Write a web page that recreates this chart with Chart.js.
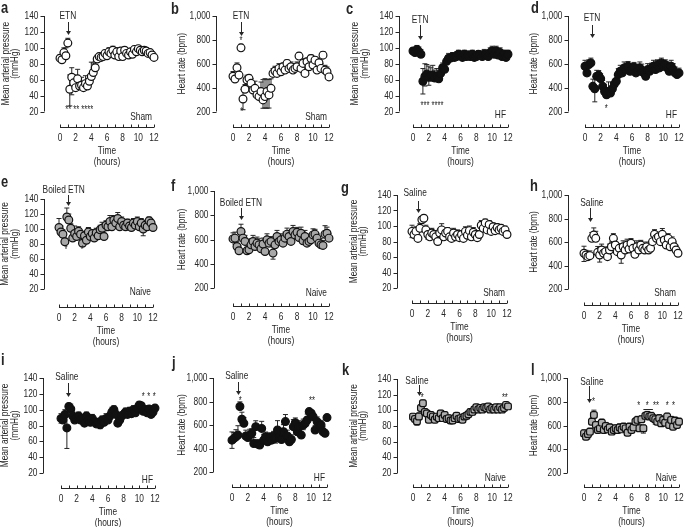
<!DOCTYPE html>
<html>
<head>
<meta charset="utf-8">
<script src="https://cdn.jsdelivr.net/npm/chart.js@4.4.1/dist/chart.umd.min.js"></script>
<style>
  html, body { margin: 0; padding: 0; background: #fff; }
  #fig { position: relative; width: 685px; height: 527px; overflow: hidden; }
  #fig canvas { position: absolute; }
</style>
</head>
<body>
<div id="fig"></div>
<script>
// ========================================
// Data
// ========================================
const hours = [0, 0.25, 0.5, 0.75, 1, 1.25, 1.5, 1.75, 2, 2.25, 2.5, 2.75, 3, 3.25, 3.5, 3.75,
    4, 4.25, 4.5, 4.75, 5, 5.25, 5.5, 5.75, 6, 6.25, 6.5, 6.75, 7, 7.25, 7.5, 7.75,
    8, 8.25, 8.5, 8.75, 9, 9.25, 9.5, 9.75, 10, 10.25, 10.5, 10.75, 11, 11.25, 11.5, 11.75, 12];
const hourTicks = [0, 1, 2, 3, 4, 5, 6, 7, 8, 9, 10, 11, 12];
const mapTicks = [20, 40, 60, 80, 100, 120, 140];
const hrTicks = [200, 400, 600, 800, 1000];

// a - MAP, sham, ETN
const mapShamEtn = [87, 85, 94, 90, 106, 48, 63, 56, 50, 61, 52, 53, 50, 55, 52, 58,
    64, 69, 75, 86, 89, 88, 89, 93, 90, 95, 93, 97, 91, 95, 89, 96,
    89, 97, 93, 91, 95, 92, 98, 95, 99, 97, 95, 97, 96, 93, 94, 91, 88];
const mapShamEtnSem = [4, 4, 6, 10, 6, 18, 12, 10, 14, 12, 8, 10, 8, 10, 6, 8,
    18, 12, 8, 5, 4, 4, 5, 4, 6, 5, 6, 5, 6, 5, 6, 4,
    5, 4, 5, 5, 4, 5, 4, 5, 4, 4, 5, 4, 4, 5, 4, 4, 4];
const mapShamEtnSemLow = [[1.25, 21], [1.5, 22]];

// b - HR, sham, ETN
const hrShamEtn = [495, 472, 567, 505, 733, 305, 386, 464, 478, 436, 380, 394, 339, 325, 367, 297,
    325, 367, 339, 394, 519, 539, 519, 561, 533, 575, 547, 603, 561, 575, 547, 561,
    575, 664, 561, 603, 519, 617, 575, 644, 589, 630, 547, 608, 561, 672, 547, 533, 490];
const hrShamEtnSem = [40, 30, 40, 30, 30, 80, 40, 40, 30, 40, 40, 60, 60, 60, 80, 170,
    150, 100, 130, 80, 40, 40, 50, 40, 40, 30, 40, 30, 40, 40, 50, 40,
    40, 30, 40, 40, 40, 30, 40, 30, 40, 30, 40, 40, 40, 30, 40, 40, 30];
const hrShamEtnSemLow = [[1.25, 90], [3.75, 70], [4, 95], [4.25, 140], [4.5, 110]];

// c - MAP, HF, ETN
const mapHfEtn = [96, 94, 98, 95, 92, 58, 64, 67, 63, 65, 66, 62, 64, 61, 68, 75,
    73, 83, 87, 87, 89, 88, 89, 92, 91, 88, 92, 89, 91, 89, 92, 88,
    89, 92, 91, 89, 92, 92, 89, 94, 96, 92, 96, 91, 94, 89, 92, 88, 92];
const mapHfEtnSem = [4, 3, 5, 6, 6, 16, 16, 12, 14, 10, 12, 10, 10, 8, 6, 6,
    8, 5, 6, 5, 5, 4, 6, 5, 5, 4, 5, 5, 5, 4, 5, 5,
    5, 4, 5, 5, 6, 5, 5, 6, 6, 5, 6, 5, 6, 5, 5, 5, 5];
const mapHfEtnSemLow = [[1.25, 16], [1.5, 12], [2, 10], [2.5, 8]];

// d - HR, HF, ETN
const hrHfEtn = [579, 523, 593, 607, 411, 391, 495, 503, 475, 411, 368, 340, 368, 354, 391, 430,
    453, 509, 537, 523, 565, 551, 579, 537, 551, 571, 523, 537, 565, 537, 523, 495,
    551, 537, 565, 579, 551, 593, 565, 607, 579, 593, 565, 537, 579, 551, 523, 509, 523];
const hrHfEtnSem = [50, 40, 40, 40, 60, 100, 50, 40, 40, 50, 60, 60, 80, 50, 50, 40,
    50, 50, 50, 40, 50, 50, 40, 50, 50, 40, 50, 60, 50, 60, 50, 50,
    50, 50, 40, 50, 50, 40, 50, 40, 40, 40, 50, 50, 50, 50, 50, 40, 40];
const hrHfEtnSemLow = [[1.25, 110]];

// e - MAP, naive, boiled ETN
const mapNaiveBoiled = [102, 96, 93, 83, 116, 112, 101, 88, 94, 90, 97, 93, 81, 91, 85, 96,
    90, 94, 88, 95, 91, 99, 101, 90, 105, 103, 110, 103, 112, 108, 114, 103,
    110, 105, 103, 108, 104, 102, 108, 105, 110, 103, 108, 100, 105, 103, 111, 108, 102];
const mapNaiveBoiledSem = [12, 8, 6, 5, 12, 8, 6, 8, 10, 8, 6, 5, 6, 6, 6, 6,
    6, 5, 6, 6, 6, 6, 8, 6, 6, 6, 8, 6, 6, 6, 8, 6,
    6, 6, 6, 5, 6, 6, 6, 5, 6, 5, 6, 8, 5, 6, 5, 5, 5];
const mapNaiveBoiledSemLow = [[10.75, 9]];

// f - HR, naive, boiled ETN
const hrNaiveBoiled = [605, 611, 542, 507, 666, 611, 584, 507, 515, 556, 584, 542, 570, 556, 523, 562,
    501, 597, 570, 584, 488, 556, 625, 584, 597, 570, 611, 644, 625, 584, 666, 638,
    660, 616, 652, 589, 625, 570, 584, 597, 638, 644, 611, 570, 556, 551, 644, 652, 611];
const hrNaiveBoiledSem = [50, 50, 40, 40, 60, 50, 50, 40, 40, 50, 50, 40, 50, 50, 40, 50,
    40, 50, 50, 40, 50, 40, 50, 40, 50, 40, 50, 50, 50, 40, 50, 50,
    40, 50, 50, 40, 50, 40, 40, 50, 50, 40, 40, 40, 50, 40, 70, 50, 40];
const hrNaiveBoiledSemLow = [[0.25, 50], [5, 50]];

// g - MAP, sham, saline
const mapShamSaline = [93, 89, 93, 84, 97, 108, 110, 95, 89, 86, 91, 89, 86, 80, 91, 95,
    86, 91, 93, 86, 84, 91, 86, 89, 85, 89, 84, 93, 88, 94, 86, 92,
    89, 85, 89, 101, 97, 104, 95, 102, 93, 99, 94, 98, 95, 97, 93, 95, 89];
const mapShamSalineSem = [8, 6, 6, 5, 6, 4, 4, 6, 6, 5, 6, 5, 5, 5, 6, 8,
    5, 6, 5, 6, 5, 6, 5, 6, 5, 5, 5, 6, 6, 6, 5, 6,
    5, 5, 5, 6, 6, 5, 6, 5, 6, 5, 6, 5, 6, 5, 5, 5, 4];
const mapShamSalineSemLow = [[0, 8], [2, 6], [8.25, 4]];

// h - HR, sham, saline
const hrShamSaline = [504, 489, 475, 484, 631, 660, 631, 512, 489, 532, 504, 518, 475, 532, 560, 631,
    574, 518, 546, 489, 560, 532, 574, 540, 589, 546, 495, 560, 532, 574, 546, 532,
    560, 532, 546, 603, 665, 631, 645, 603, 665, 617, 574, 631, 560, 603, 560, 532, 504];
const hrShamSalineSem = [60, 40, 40, 40, 50, 60, 60, 50, 60, 50, 40, 40, 40, 50, 40, 40,
    50, 50, 40, 40, 50, 40, 50, 60, 40, 50, 40, 50, 50, 40, 40, 40,
    40, 50, 40, 50, 40, 40, 40, 40, 50, 50, 50, 40, 50, 40, 40, 40, 30];
const hrShamSalineSemLow = [[0, 70], [2, 60], [4.75, 70]];

// i - MAP, HF, saline
const mapHfSaline = [89, 87, 94, 77, 104, 101, 92, 87, 89, 92, 87, 89, 83, 92, 87, 84,
    89, 85, 82, 84, 81, 87, 84, 89, 87, 92, 97, 100, 94, 83, 87, 92,
    94, 97, 94, 98, 95, 100, 96, 102, 106, 105, 98, 100, 96, 101, 94, 97, 102];
const mapHfSalineSem = [6, 5, 6, 14, 4, 6, 6, 5, 5, 5, 5, 5, 4, 5, 5, 4,
    5, 4, 4, 5, 5, 5, 5, 6, 5, 5, 6, 5, 5, 5, 5, 5,
    5, 5, 5, 5, 5, 5, 5, 5, 4, 4, 5, 5, 5, 4, 5, 4, 4];
const mapHfSalineSemLow = [[0, 6], [0.75, 26], [5, 5]];

// j - HR, HF, saline
const hrHfSaline = [471, 486, 500, 514, 757, 649, 614, 506, 494, 514, 529, 443, 586, 437, 429, 571,
    471, 500, 457, 494, 471, 506, 486, 557, 494, 477, 543, 629, 506, 457, 477, 586,
    620, 543, 586, 514, 600, 614, 643, 714, 700, 671, 557, 629, 591, 600, 543, 529, 663];
const hrHfSalineSem = [70, 50, 60, 80, 40, 60, 50, 50, 40, 50, 40, 50, 50, 40, 40, 60,
    50, 40, 50, 40, 50, 40, 50, 80, 50, 40, 60, 60, 50, 40, 40, 60,
    40, 60, 50, 50, 50, 40, 50, 20, 20, 30, 40, 40, 30, 40, 40, 30, 20];
const hrHfSalineSemLow = [[0, 70], [4.75, 50], [5.5, 40], [9, 40]];

// k - MAP, naive, saline
const mapNaiveSaline = [92, 89, 86, 92, 103, 109, 98, 96, 88, 94, 92, 88, 92, 90, 96, 90,
    94, 89, 90, 87, 87, 90, 93, 89, 90, 88, 92, 93, 95, 98, 98, 101,
    104, 101, 103, 101, 104, 103, 105, 101, 103, 101, 104, 101, 104, 101, 103, 107, 105];
const mapNaiveSalineSem = [4, 4, 4, 5, 4, 4, 4, 4, 4, 4, 4, 4, 4, 4, 4, 4,
    4, 4, 4, 4, 4, 4, 4, 4, 4, 4, 4, 4, 4, 4, 4, 3,
    3, 3, 3, 3, 3, 3, 3, 3, 3, 3, 3, 3, 3, 3, 3, 3, 3];
const mapNaiveSalineSemLow = [[0.5, 5]];

// l - HR, naive, saline
const hrNaiveSaline = [534, 505, 528, 548, 632, 689, 604, 562, 576, 624, 562, 596, 567, 584, 548, 562,
    576, 562, 584, 567, 590, 576, 539, 590, 562, 584, 632, 647, 576, 652, 576, 681,
    689, 675, 681, 661, 652, 632, 661, 618, 647, 624, 675, 604, 647, 590, 641, 604, 632];
const hrNaiveSalineSem = [30, 30, 30, 30, 30, 40, 30, 30, 30, 30, 30, 30, 30, 30, 30, 30,
    30, 30, 30, 30, 30, 30, 30, 30, 30, 30, 30, 30, 30, 30, 30, 30,
    30, 30, 30, 30, 30, 30, 30, 30, 30, 30, 30, 30, 30, 30, 30, 30, 30];
const hrNaiveSalineSemLow = [[0.5, 40], [7.5, 40], [9, 40]];

// ========================================
// Panel setup
// ========================================
const FONT = '"Liberation Sans", Arial, sans-serif';
const NARROW = 0.76;   // the figure uses a narrow Helvetica
const INK = '#262626';
const MAP_TITLE = ['Mean arterial pressure', '(mmHg)'];
const HR_TITLE = ['Heart rate (bpm)'];

const cols = [{ left: 0, width: 182 }, { left: 170, width: 182 }, { left: 340, width: 182 }, { left: 510, width: 175 }];
const rows = [{ top: 0, height: 175 }, { top: 175, height: 175 }, { top: 350, height: 177 }];

const panels = [
    { letter: 'a', col: 0, row: 0, vals: mapShamEtn, sem: mapShamEtnSem, low: mapShamEtnSemLow, kind: 'map', fill: '#fff', shape: 'circle',
      group: 'Sham', drug: 'ETN', geo: [44, 60, 154, 16, 111.5, 126.5], titleX: [6, 15], letterPos: [1, 13],
      note: { tx: 1.0, ty: 16, ax: 1.0, a0: 22, a1: 35 }, groupY: 117,
      stars: [{ t: 2.45, v: 22, s: '** ** ****' }] },
    { letter: 'b', col: 1, row: 0, vals: hrShamEtn, sem: hrShamEtnSem, low: hrShamEtnSemLow, kind: 'hr', fill: '#fff', shape: 'circle',
      group: 'Sham', drug: 'ETN', geo: [216, 233, 329, 16, 111.5, 126.5], titleX: [182], letterPos: [171, 14],
      note: { tx: 1.0, ty: 16, ax: 1.0, a0: 22, a1: 36 }, groupY: 117,
      stars: [{ t: 1.0, v: 790, s: '*' }, { t: 1.1, v: 190, s: '*' }] },
    { letter: 'c', col: 2, row: 0, vals: mapHfEtn, sem: mapHfEtnSem, low: mapHfEtnSemLow, kind: 'map', fill: '#111', shape: 'circle',
      group: 'HF', drug: 'ETN', geo: [399, 413, 508, 16, 111.5, 126.5], titleX: [355, 365], letterPos: [346, 14],
      note: { tx: 0.9, ty: 20, ax: 0.9, a0: 25, a1: 40 }, groupY: 115,
      stars: [{ t: 2.4, v: 27, s: '*** ****' }] },
    { letter: 'd', col: 3, row: 0, vals: hrHfEtn, sem: hrHfEtnSem, low: hrHfEtnSemLow, kind: 'hr', fill: '#111', shape: 'circle',
      group: 'HF', drug: 'ETN', geo: [568, 585, 679, 16, 111.5, 126.5], titleX: [534], letterPos: [531, 13],
      note: { tx: 0.9, ty: 18, ax: 0.9, a0: 25, a1: 38 }, groupY: 115,
      stars: [{ t: 2.7, v: 215, s: '*' }] },
    { letter: 'e', col: 0, row: 1, vals: mapNaiveBoiled, sem: mapNaiveBoiledSem, low: mapNaiveBoiledSemLow, kind: 'map', fill: '#a8a8a8', shape: 'circle',
      group: 'Naive', drug: 'Boiled ETN', geo: [44, 59, 153, 199, 289, 307], titleX: [5, 15], letterPos: [1, 187],
      note: { tx: 0.6, ty: 190, ax: 1.2, a0: 195, a1: 206 }, groupY: 292,
      stars: [{ t: 0.9, v: 72, s: '*' }, { t: 2.95, v: 72, s: '*' }] },
    { letter: 'f', col: 1, row: 1, vals: hrNaiveBoiled, sem: hrNaiveBoiledSem, low: hrNaiveBoiledSemLow, kind: 'hr', fill: '#a8a8a8', shape: 'circle',
      group: 'Naive', drug: 'Boiled ETN', geo: [214, 233, 329, 191, 288, 306], titleX: [182], letterPos: [171, 191],
      note: { tx: 1.0, ty: 203, ax: 1.0, a0: 208, a1: 220 }, groupY: 293, stars: [] },
    { letter: 'g', col: 2, row: 1, vals: mapShamSaline, sem: mapShamSalineSem, low: mapShamSalineSemLow, kind: 'map', fill: '#fff', shape: 'circle',
      group: 'Sham', drug: 'Saline', geo: [397, 412, 507, 195, 288, 303], titleX: [354, 363], letterPos: [341, 193],
      note: { tx: 0.4, ty: 193, ax: 0.7, a0: 201, a1: 213 }, groupY: 293, stars: [] },
    { letter: 'h', col: 3, row: 1, vals: hrShamSaline, sem: hrShamSalineSem, low: hrShamSalineSemLow, kind: 'hr', fill: '#fff', shape: 'circle',
      group: 'Sham', drug: 'Saline', geo: [568, 584, 678, 195, 289, 305], titleX: [534], letterPos: [530, 191],
      note: { tx: 1.0, ty: 203, ax: 0.8, a0: 208, a1: 222 }, groupY: 293, stars: [] },
    { letter: 'i', col: 0, row: 2, vals: mapHfSaline, sem: mapHfSalineSem, low: mapHfSalineSemLow, kind: 'map', fill: '#111', shape: 'circle',
      group: 'HF', drug: 'Saline', geo: [43, 61, 155, 378, 473, 488], titleX: [5, 15], letterPos: [1, 365],
      note: { tx: 0.75, ty: 377, ax: 0.9, a0: 383, a1: 397 }, groupY: 480,
      stars: [{ t: 10.5, v: 116, s: '*' }, { t: 11.2, v: 116, s: '*' }, { t: 11.9, v: 116, s: '*' }] },
    { letter: 'j', col: 1, row: 2, vals: hrHfSaline, sem: hrHfSalineSem, low: hrHfSalineSemLow, kind: 'hr', fill: '#111', shape: 'circle',
      group: 'HF', drug: 'Saline', geo: [213, 232, 327, 378, 472, 487], titleX: [182], letterPos: [172, 368],
      note: { tx: 0.6, ty: 376, ax: 0.8, a0: 382, a1: 395 }, groupY: 478,
      stars: [{ t: 1.05, v: 805, s: '*' }, { t: 10.1, v: 805, s: '**' }] },
    { letter: 'k', col: 2, row: 2, vals: mapNaiveSaline, sem: mapNaiveSalineSem, low: mapNaiveSalineSemLow, kind: 'map', fill: '#b0b0b0', shape: 'rectRounded',
      group: 'Naive', drug: 'Saline', geo: [397, 413, 508, 379, 473, 487], titleX: [354, 363], letterPos: [342, 375],
      note: { tx: 0.5, ty: 381, ax: 0.8, a0: 385, a1: 396 }, groupY: 478,
      stars: [{ t: 1.15, v: 115, s: '*' }, { t: 11.6, v: 115, s: '**' }] },
    { letter: 'l', col: 3, row: 2, vals: hrNaiveSaline, sem: hrNaiveSalineSem, low: hrNaiveSalineSemLow, kind: 'hr', fill: '#b0b0b0', shape: 'rectRounded',
      group: 'Naive', drug: 'Saline', geo: [567, 584, 679, 378, 473, 487], titleX: [534], letterPos: [531, 375],
      note: { tx: 1.0, ty: 382, ax: 0.6, a0: 386, a1: 403 }, groupY: 478,
      stars: [{ t: 1.2, v: 800, s: '*' }, { t: 6.9, v: 765, s: '*' }, { t: 8.0, v: 765, s: '*' },
              { t: 9.1, v: 765, s: '**' }, { t: 10.5, v: 765, s: '*' }, { t: 11.3, v: 765, s: '*' }],
      bracket: { t0: 7.5, t1: 8.7, v: 735 } }
];

// narrow text helper (squeezes Liberation Sans horizontally)
function drawText(ctx, str, x, y, opt = {}) {
    ctx.save();
    ctx.translate(x, y);
    if (opt.rotate) ctx.rotate(opt.rotate);
    ctx.scale(NARROW, 1);
    ctx.font = `${opt.bold ? 'bold ' : ''}${opt.size || 11}px ${FONT}`;
    ctx.textAlign = opt.align || 'center';
    ctx.textBaseline = opt.baseline || 'middle';
    ctx.fillStyle = INK;
    ctx.fillText(str, 0, 0);
    ctx.restore();
}

// ========================================
// Drawing plugin: axes, error bars, labels
// ========================================
const decor = {
    id: 'decor',
    beforeDatasetsDraw(chart, args, o) {
        const { ctx, chartArea } = chart;
        const xs = chart.scales.x, ys = chart.scales.y;
        const ticks = o.kind === 'map' ? mapTicks : hrTicks;
        ctx.save();
        ctx.strokeStyle = INK;
        ctx.lineWidth = 1;

        // y axis line + ticks
        const yTop = ys.getPixelForValue(ticks[ticks.length - 1]);
        const yBot = ys.getPixelForValue(ticks[0]);
        const ax = Math.round(chartArea.left) + 0.5;
        ctx.beginPath();
        ctx.moveTo(ax, yTop); ctx.lineTo(ax, yBot);
        ticks.forEach(v => {
            const y = Math.round(ys.getPixelForValue(v)) + 0.5;
            ctx.moveTo(ax - 4, y); ctx.lineTo(ax, y);
        });
        // x axis line + ticks
        const by = Math.round(chartArea.bottom) + 0.5;
        ctx.moveTo(xs.getPixelForValue(0), by); ctx.lineTo(xs.getPixelForValue(12), by);
        hourTicks.forEach(h => {
            const x = Math.round(xs.getPixelForValue(h)) + 0.5;
            ctx.moveTo(x, by); ctx.lineTo(x, by - 3);
        });
        ctx.stroke();

        // tick labels
        ticks.forEach(v => drawText(ctx, v.toLocaleString('en-US'), ax - 6, ys.getPixelForValue(v), { align: 'right' }));
        hourTicks.filter(h => h % 2 === 0).forEach(h => drawText(ctx, String(h), xs.getPixelForValue(h), by + 10));

        // error bars
        const pts = chart.getDatasetMeta(0).data;
        const bar = (i, e) => {
            const x = pts[i].x;
            const y1 = ys.getPixelForValue(o.vals[i]);
            const y2 = ys.getPixelForValue(o.vals[i] + e);
            ctx.beginPath();
            ctx.moveTo(x, y1); ctx.lineTo(x, y2);
            ctx.moveTo(x - 2.5, y2); ctx.lineTo(x + 2.5, y2);
            ctx.stroke();
        };
        o.sem.forEach((e, i) => { if (e) bar(i, e); });
        o.low.forEach(([h, e]) => bar(hours.indexOf(h), -e));
        ctx.restore();
    },
    afterDraw(chart, args, o) {
        const { ctx } = chart;
        const xs = chart.scales.x, ys = chart.scales.y;
        const ox = o.cellLeft, oy = o.cellTop;
        ctx.save();
        ctx.fillStyle = INK;
        ctx.strokeStyle = INK;

        // panel letter
        drawText(ctx, o.letter, o.letterPos[0] - ox, o.letterPos[1] - oy, { bold: true, size: 17, align: 'left', baseline: 'alphabetic' });

        // y title
        const ticks = o.kind === 'map' ? mapTicks : hrTicks;
        const yc = (ys.getPixelForValue(ticks[0]) + ys.getPixelForValue(ticks[ticks.length - 1])) / 2;
        const title = o.kind === 'map' ? MAP_TITLE : HR_TITLE;
        title.forEach((line, k) => drawText(ctx, line, o.titleX[k] - ox, yc, { rotate: -Math.PI / 2 }));

        // x title
        const xc = (xs.getPixelForValue(0) + xs.getPixelForValue(12)) / 2;
        const by = chart.chartArea.bottom;
        drawText(ctx, 'Time', xc, by + 24);
        drawText(ctx, '(hours)', xc, by + 35);

        // group label
        drawText(ctx, o.group, xs.getPixelForValue(12) - 2, o.groupY - oy, { align: 'right' });

        // drug annotation with arrow
        drawText(ctx, o.drug, xs.getPixelForValue(o.note.tx), o.note.ty - oy);
        const arx = Math.round(xs.getPixelForValue(o.note.ax)) + 0.5;
        const a0 = o.note.a0 - oy, a1 = o.note.a1 - oy;
        ctx.lineWidth = 1;
        ctx.beginPath();
        ctx.moveTo(arx, a0); ctx.lineTo(arx, a1 - 3);
        ctx.stroke();
        ctx.beginPath();
        ctx.moveTo(arx - 2.5, a1 - 4); ctx.lineTo(arx + 2.5, a1 - 4); ctx.lineTo(arx, a1);
        ctx.closePath();
        ctx.fill();

        // significance marks
        o.stars.forEach(s => drawText(ctx, s.s, xs.getPixelForValue(s.t), ys.getPixelForValue(s.v), { size: 10 }));
        if (o.bracket) {
            const y = Math.round(ys.getPixelForValue(o.bracket.v)) + 0.5;
            ctx.beginPath();
            ctx.moveTo(xs.getPixelForValue(o.bracket.t0), y);
            ctx.lineTo(xs.getPixelForValue(o.bracket.t1), y);
            ctx.stroke();
        }
        ctx.restore();
    }
};

// ========================================
// Build charts
// ========================================
const fig = document.getElementById('fig');

panels.forEach(p => {
    const col = cols[p.col], row = rows[p.row];
    const [yAxisX, x0, x12, hiY, loY, axisY] = p.geo;
    const ticks = p.kind === 'map' ? mapTicks : hrTicks;
    const lo = ticks[0], hi = ticks[ticks.length - 1];
    const xMin = -(x0 - yAxisX) / ((x12 - x0) / 12);
    const yMin = lo - (axisY - loY) * (hi - lo) / (loY - hiY);

    const canvas = document.createElement('canvas');
    canvas.width = col.width;
    canvas.height = row.height;
    canvas.style.left = col.left + 'px';
    canvas.style.top = row.top + 'px';
    fig.appendChild(canvas);

    new Chart(canvas.getContext('2d'), {
        type: 'line',
        data: {
            datasets: [{
                data: hours.map((h, i) => ({ x: h, y: p.vals[i] })),
                showLine: false,
                pointStyle: p.shape,
                pointRadius: 3.9,
                pointBorderWidth: 1.2,
                pointBackgroundColor: p.fill,
                pointBorderColor: '#111',
                clip: false
            }]
        },
        options: {
            responsive: false,
            animation: false,
            events: [],
            layout: {
                autoPadding: false,
                padding: { top: hiY - row.top, right: col.left + col.width - x12, left: 0, bottom: 0 }
            },
            plugins: {
                legend: { display: false },
                tooltip: { enabled: false },
                decor: { ...p, cellLeft: col.left, cellTop: row.top }
            },
            scales: {
                x: {
                    type: 'linear',
                    min: xMin,
                    max: 12,
                    afterFit: s => { s.height = row.top + row.height - axisY; },
                    grid: { display: false, drawTicks: false },
                    border: { display: false },
                    ticks: { display: false }
                },
                y: {
                    min: yMin,
                    max: hi,
                    afterFit: s => { s.width = yAxisX - col.left; },
                    grid: { display: false, drawTicks: false },
                    border: { display: false },
                    ticks: { display: false }
                }
            }
        },
        plugins: [decor]
    });
});
</script>
</body>
</html>
